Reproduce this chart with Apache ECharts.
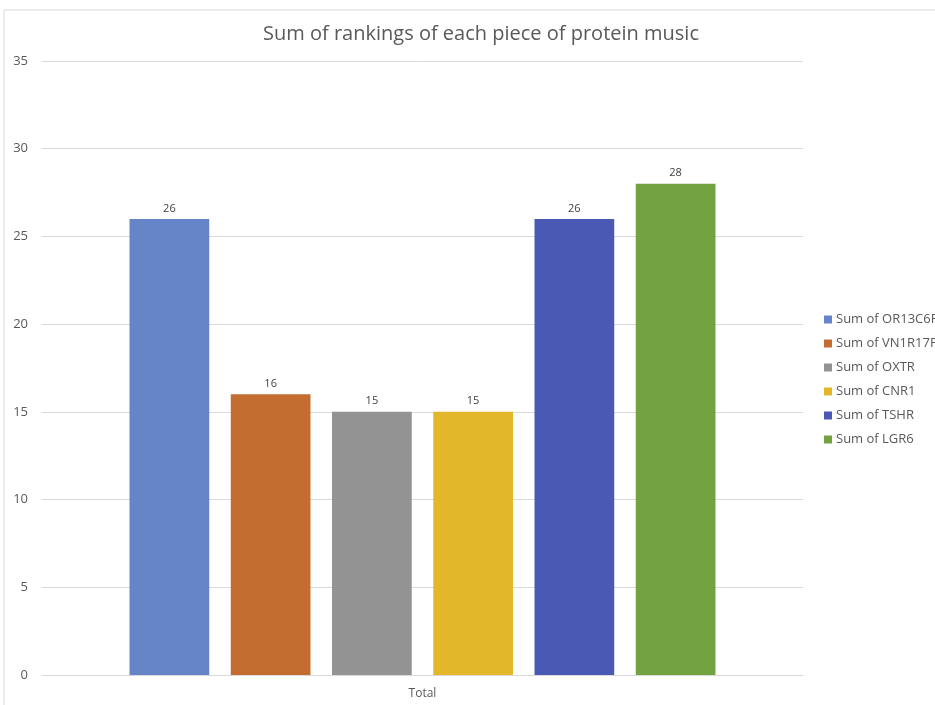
<!DOCTYPE html>
<html><head><meta charset="utf-8">
<script src="https://cdn.jsdelivr.net/npm/echarts@6/dist/echarts.min.js"></script>
<style>html,body{margin:0;padding:0;background:#fff}#c{width:935px;height:705px}</style>
</head><body><div id="c"></div>
<script>
const categories = ['Total'];
const seriesNames = ['Sum of OR13C6P', 'Sum of VN1R17P', 'Sum of OXTR', 'Sum of CNR1', 'Sum of TSHR', 'Sum of LGR6'];
const seriesValues = [26, 16, 15, 15, 26, 28];
const colors = ['#6685C9', '#C46D31', '#939393', '#E3B72A', '#4A5AB4', '#73A341'];
const yTicks = { min: 0, max: 35, interval: 5 };

const chart = echarts.init(document.getElementById('c'));
const font = 'Open Sans, Liberation Sans, sans-serif';
chart.setOption({
  animation: false,
  textStyle: { fontFamily: font },
  title: {
    text: 'Sum of rankings of each piece of protein music',
    left: 476, top: 19, textAlign: 'center',
    textStyle: { fontSize: 20, fontWeight: 'normal', color: '#595959', fontFamily: font }
  },
  graphic: [{
    type: 'polyline', silent: true,
    shape: { points: [[4, 705], [4, 10], [935, 10]] },
    style: { stroke: '#d9d9d9', lineWidth: 1, fill: null }
  }],
  legend: {
    orient: 'vertical', left: 819, top: 308,
    itemWidth: 8, itemHeight: 8, itemGap: 11,
    icon: 'rect',
    textStyle: { fontSize: 13, color: '#595959', fontFamily: font, padding: [0, 0, 0, -1] }
  },
  grid: { left: 42, right: 132, top: 61, bottom: 30, containLabel: false },
  xAxis: {
    type: 'category', data: categories,
    axisLine: { lineStyle: { color: '#d9d9d9' } },
    axisTick: { show: false },
    axisLabel: { color: '#595959', fontSize: 12, margin: 13 }
  },
  yAxis: {
    type: 'value', min: yTicks.min, max: yTicks.max, interval: yTicks.interval,
    axisLine: { show: false }, axisTick: { show: false },
    splitLine: { lineStyle: { color: '#d9d9d9' } },
    axisLabel: { color: '#595959', fontSize: 13, margin: 14 }
  },
  series: seriesNames.map((n, i) => ({
    name: n, type: 'bar', data: [seriesValues[i]],
    itemStyle: { color: colors[i] },
    barGap: '27%', barCategoryGap: '23%',
    label: { show: true, position: 'top', color: '#404040', fontSize: 11, distance: 5 }
  }))
});
</script></body></html>
